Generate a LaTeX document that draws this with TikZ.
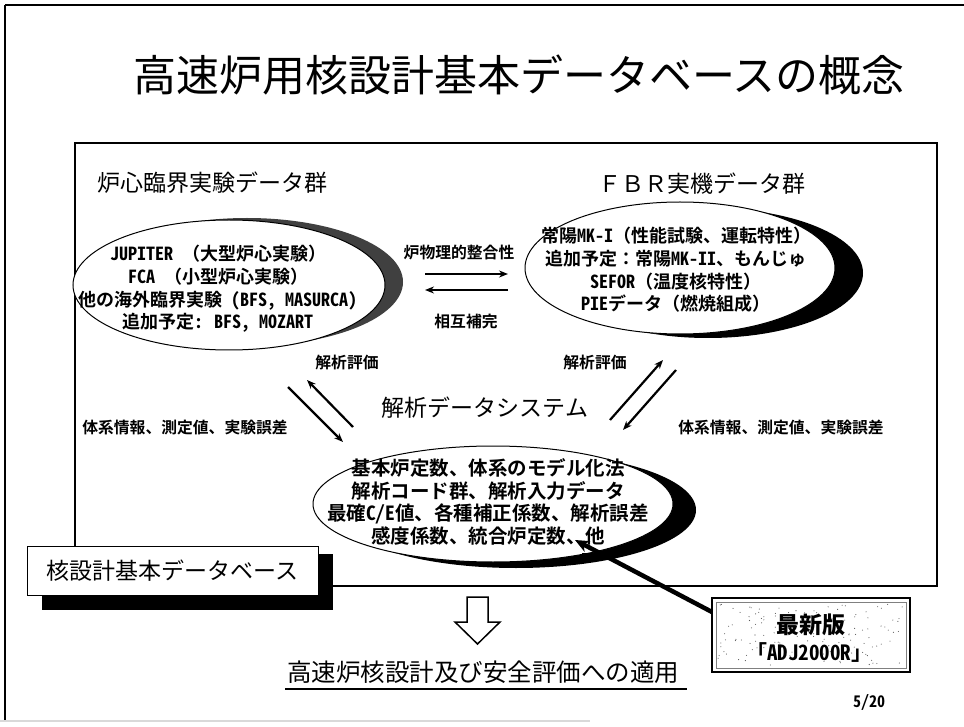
\documentclass[tikz,border=0pt]{standalone}
\usepackage{fontspec}
\setmainfont{Noto Sans CJK JP}
\newfontfamily\monocjk{Noto Sans Mono CJK JP}
\usetikzlibrary{shapes.geometric,arrows.meta}
\begin{document}
\begin{tikzpicture}[x=1pt,y=-1pt,
  title/.style={font=\fontsize{43}{48}\selectfont},
  header/.style={font=\fontsize{23}{27}\selectfont},
  elltext/.style={font=\monocjk\fontsize{18}{22.7}\selectfont\bfseries, align=center, inner sep=0pt},
  smalllab/.style={font=\monocjk\fontsize{15.8}{18}\selectfont\bfseries, inner sep=0pt},
  whiteell/.style={ellipse, draw=black, line width=1pt, fill=white, inner sep=0pt},
  shadowell/.style={ellipse, fill=black, inner sep=0pt},
  thinarrow/.style={line width=2.2pt, -{Stealth[length=9pt,width=7pt]}},
]
\useasboundingbox (0,0) rectangle (964,727);
\fill[white] (0,0) rectangle (964,727);
% slide frame
\draw[line width=2pt] (5,5) -- (964,5);
\draw[line width=2pt] (5,5) -- (5,722);
\draw[black!15, line width=1.5pt] (0,721) -- (590,721);
% title
\node[title] (ttl) at (519,75) {高速炉用核設計基本データベースの概念};
% inner box
\draw[line width=1.3pt] (75,143) rectangle (937,586);
% headers
\node[header] (hl) at (212,183) {炉心臨界実験データ群};
\node[header] (hr) at (702,184) {ＦＢＲ実機データ群};
% left ellipse
\node[shadowell, fill=black!75, minimum width=312pt, minimum height=128pt] (lesh) at (247,282) {};
\node[whiteell, minimum width=312pt, minimum height=130pt] (le) at (229,285) {};
\node[elltext] (lt) at (218,289) {JUPITER （大型炉心実験）\\FCA （小型炉心実験）\\他の海外臨界実験 (BFS, MASURCA)\\追加予定: BFS, MOZART};
% right ellipse
\node[shadowell, minimum width=310pt, minimum height=130pt] (resh) at (708,273) {};
\node[whiteell, minimum width=310pt, minimum height=132pt] (re) at (680,268) {};
\node[elltext] (rt) at (676,270) {常陽MK-I（性能試験、運転特性）\\追加予定：常陽MK-II、もんじゅ\\SEFOR（温度核特性）\\PIEデータ（燃焼組成）};
% middle arrows
\node[smalllab] (lab1) at (459,253) {炉物理的整合性};
\node[smalllab] (lab2) at (466,322) {相互補完};
\coordinate (e1s) at (425,274); \coordinate (e1e) at (508,274);
\coordinate (e2s) at (508,290); \coordinate (e2e) at (425,290);
\draw[thinarrow] (e1s) -- (e1e);
\draw[thinarrow] (e2s) -- (e2e);
% system label
\node[header] (sys) at (485,408) {解析データシステム};
\node[smalllab] (evl) at (347,363) {解析評価};
\node[smalllab] (evr) at (595,363) {解析評価};
\node[smalllab] (infl) at (185,428) {体系情報、測定値、実験誤差};
\node[smalllab] (infr) at (781,428) {体系情報、測定値、実験誤差};
% diagonal arrows
\coordinate (a1s) at (288,387); \coordinate (a1e) at (343,442);
\coordinate (a2s) at (353,427); \coordinate (a2e) at (307,380);
\coordinate (a3s) at (610,420); \coordinate (a3e) at (663,360);
\coordinate (a4s) at (676,370); \coordinate (a4e) at (623,430);
\draw[thinarrow] (a1s) -- (a1e);
\draw[thinarrow] (a2s) -- (a2e);
\draw[thinarrow] (a3s) -- (a3e);
\draw[thinarrow] (a4s) -- (a4e);
% bottom ellipse
\node[shadowell, minimum width=360pt, minimum height=116pt] (besh) at (516,510) {};
\node[whiteell, minimum width=360pt, minimum height=116pt] (be) at (493,504) {};
\node[elltext, font=\monocjk\fontsize{19.5}{22.7}\selectfont\bfseries] (bt) at (488,502) {基本炉定数、体系のモデル化法\\解析コード群、解析入力データ\\最確C/E値、各種補正係数、解析誤差\\感度係数、統合炉定数、他};
\draw[line width=1pt] (582,553) -- (599,553);
% database box
\fill[black] (42,554) rectangle (333,610);
\node[draw=black, line width=1pt, fill=white, minimum width=291pt, minimum height=49pt, inner sep=0pt,
      font=\fontsize{23}{27}\selectfont] (db) at (172.5,570.5) {核設計基本データベース};
% hollow down arrow
\draw[line width=1.5pt, fill=white, line join=miter]
  (467,597) -- (488,597) -- (488,622) -- (500,622) -- (477.5,644) -- (455,622) -- (467,622) -- cycle;
% application text
\node[font=\fontsize{24.5}{28}\selectfont, inner sep=0pt] (app) at (483,672) {高速炉核設計及び安全評価への適用};
\draw[line width=2.5pt] (285,689) -- (687,689);
% ADJ box
\draw[line width=2pt, fill=white] (712,598) rectangle (910,672);
\draw[black!50, line width=0.7pt] (716,602) rectangle (906,668);
\pgfmathsetseed{11}
\foreach \i in {1,...,140}{
  \pgfmathsetmacro\rx{rnd*186+718}
  \pgfmathsetmacro\ry{rnd*62+604}
  \fill[black!65] (\rx,\ry) circle (0.55pt);
}
\node[font=\fontsize{23}{26}\selectfont\bfseries, inner sep=0pt] (new) at (811,625) {最新版};
\node[font=\monocjk\fontsize{21}{24}\selectfont\bfseries, inner sep=0pt] (adj) at (809,653) {「ADJ2000R」};
\coordinate (adjc) at (712,612);
\coordinate (tgt) at (575,540);
\draw[line width=4.5pt, -{Stealth[length=14pt,width=12pt]}] (adjc) -- (tgt);
% page number
\node[font=\monocjk\fontsize{16}{18}\selectfont\bfseries, inner sep=0pt] (pg) at (869,702) {5/20};
\end{tikzpicture}
\end{document}
